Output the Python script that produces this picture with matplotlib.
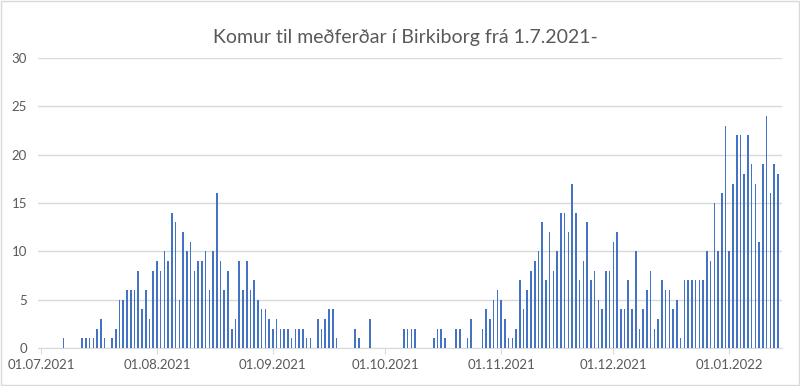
import matplotlib
matplotlib.use('Agg')
from matplotlib import pyplot as plt
import matplotlib.dates as mdates
import matplotlib.patches as mpatches
import pandas as pd

# daily counts, one list per month
jul = [0, 0, 0, 0, 0, 0, 1, 0, 0, 0, 0, 1, 1, 1, 1, 2, 3, 1, 0, 1, 2, 5, 5, 6, 6, 6, 8, 4, 6, 3, 8]
aug = [9, 8, 10, 9, 14, 13, 5, 12, 10, 11, 8, 9, 9, 10, 6, 10, 16, 9, 6, 8, 2, 3, 9, 6, 9, 6, 7, 5, 4, 4, 3]
sep = [2, 3, 2, 2, 2, 1, 2, 2, 2, 1, 1, 0, 3, 2, 3, 4, 4, 1, 0, 0, 0, 0, 2, 1, 0, 0, 3, 0, 0, 0]
okt = [0, 0, 0, 0, 0, 2, 2, 2, 2, 0, 0, 0, 0, 1, 2, 2, 1, 0, 0, 2, 2, 0, 1, 3, 0, 0, 2, 4, 3, 5, 6]
nov = [5, 3, 1, 1, 2, 7, 4, 6, 8, 9, 10, 13, 7, 12, 8, 10, 14, 14, 12, 17, 14, 7, 9, 13, 7, 8, 5, 4, 8, 8]
des = [11, 12, 4, 4, 7, 4, 10, 2, 4, 6, 8, 2, 3, 7, 6, 6, 4, 5, 1, 7, 7, 7, 7, 7, 7, 10, 9, 15, 10, 16, 23]
jan = [10, 17, 22, 22, 18, 22, 19, 17, 11, 19, 24, 16, 19, 18]

title = 'Komur til meðferðar í Birkiborg frá 1.7.2021-'

counts = jul + aug + sep + okt + nov + des + jan
days = pd.date_range('2021-07-01', periods=len(counts), freq='D')

plt.rcParams['font.family'] = ['Lato', 'DejaVu Sans']
grey = '#595959'

fig = plt.figure(figsize=(8, 3.86), dpi=100)
ax = fig.add_axes([0.0475, 0.0984, 0.93, 0.7513])

ax.bar(days, counts, width=0.42, color='#4472C4', zorder=3)

ax.set_ylim(0, 30)
ax.set_yticks(range(0, 31, 5))
ax.set_xlim(days[0] - pd.Timedelta(days=0.8), days[0] + pd.Timedelta(days=198.1))
ax.xaxis.set_major_locator(mdates.MonthLocator())
ax.xaxis.set_major_formatter(mdates.DateFormatter('%d.%m.%Y'))

ax.grid(axis='y', color='#D9D9D9', lw=1, zorder=0)
for s in ['top', 'right', 'left']:
    ax.spines[s].set_visible(False)
ax.spines['bottom'].set_color('#D9D9D9')
ax.tick_params(axis='y', length=0, pad=8, labelsize=9.5, labelcolor=grey)
ax.tick_params(axis='x', length=4, color='#D9D9D9', pad=4, labelsize=9.5, labelcolor=grey)

fig.text(405 / 800, 1 - 38 / 386, title, ha='center', va='center', fontsize=14, color=grey)

fig.patches.append(mpatches.Rectangle((0.001, 0.002), 0.998, 0.996, transform=fig.transFigure,
                                      fill=False, edgecolor='#D9D9D9', lw=1))

fig.savefig('out.png', dpi=100)
